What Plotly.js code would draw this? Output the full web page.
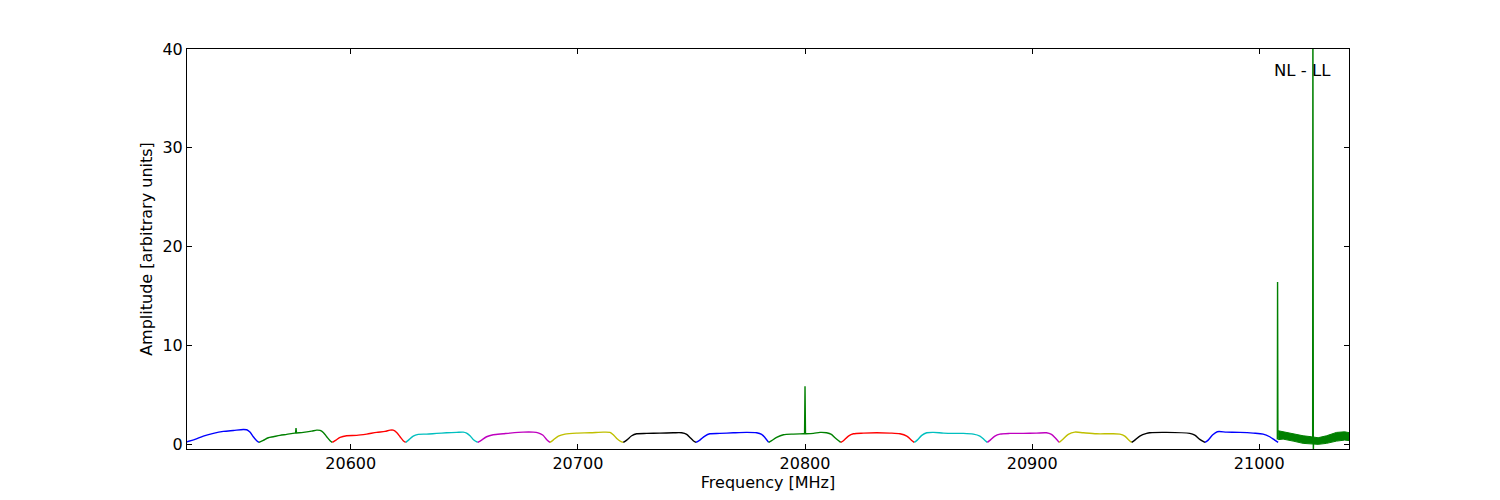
<!DOCTYPE html>
<html>
<head>
<meta charset="utf-8">
<script src="https://cdn.plot.ly/plotly-3.0.1.min.js"></script>
<style>html,body{margin:0;padding:0;background:#fff;}#chart{width:1500px;height:500px;}</style>
</head>
<body>
<div id="chart"></div>
<script>
// ---- Data (frequency in MHz, amplitude in arbitrary units) ----
const s01_f = [20527.8, 20531.4, 20535.1, 20539.5, 20543.9, 20548.3, 20552.7, 20554.2, 20555.6, 20557.1, 20558.6, 20559.6];
const s01_a = [0.22, 0.47, 0.81, 1.08, 1.28, 1.38, 1.48, 1.45, 1.21, 0.74, 0.34, 0.17];
const s02_f = [20559.6, 20561.5, 20563.7, 20565.9, 20568.8, 20571.8, 20575.4, 20579.1, 20582.8, 20585.0, 20586.5, 20587.9, 20589.4, 20590.9, 20591.9];
const s02_a = [0.17, 0.37, 0.64, 0.74, 0.88, 0.98, 1.11, 1.18, 1.31, 1.41, 1.38, 1.18, 0.74, 0.34, 0.17];
const s03_f = [20591.9, 20593.1, 20595.3, 20598.2, 20602.6, 20607.0, 20611.4, 20615.1, 20617.3, 20618.7, 20620.2, 20621.7, 20623.1, 20624.2];
const s03_a = [0.17, 0.34, 0.67, 0.84, 0.88, 1.01, 1.18, 1.28, 1.41, 1.41, 1.18, 0.74, 0.34, 0.17];
const s04_f = [20624.2, 20625.3, 20627.5, 20629.7, 20633.4, 20637.8, 20642.2, 20646.6, 20649.5, 20651.0, 20652.5, 20653.9, 20655.9];
const s04_a = [0.17, 0.37, 0.81, 0.98, 1.01, 1.08, 1.14, 1.18, 1.21, 1.11, 0.84, 0.47, 0.17];
const s05_f = [20655.9, 20657.6, 20659.8, 20662.7, 20667.1, 20670.1, 20675.9, 20680.3, 20682.5, 20684.5, 20686.2, 20687.7];
const s05_a = [0.17, 0.40, 0.74, 0.94, 1.04, 1.11, 1.21, 1.21, 1.14, 0.91, 0.47, 0.17];
const s06_f = [20687.7, 20689.1, 20691.4, 20694.3, 20699.4, 20705.3, 20711.2, 20714.1, 20715.6, 20717.1, 20718.8, 20720.0];
const s06_a = [0.17, 0.40, 0.81, 1.01, 1.11, 1.14, 1.21, 1.18, 0.94, 0.57, 0.27, 0.17];
const s07_f = [20720.0, 20721.5, 20723.7, 20725.9, 20730.3, 20736.1, 20742.0, 20745.7, 20747.9, 20749.3, 20750.8, 20752.0];
const s07_a = [0.17, 0.40, 0.84, 1.04, 1.08, 1.11, 1.14, 1.14, 0.98, 0.67, 0.34, 0.17];
const s08_f = [20752.0, 20753.7, 20755.9, 20758.1, 20762.5, 20768.4, 20774.3, 20778.7, 20780.9, 20782.4, 20784.0];
const s08_a = [0.17, 0.40, 0.81, 1.04, 1.08, 1.14, 1.18, 1.14, 0.98, 0.64, 0.17];
const s09_f = [20784.0, 20785.3, 20787.5, 20790.5, 20794.9, 20799.3, 20803.7, 20806.6, 20809.5, 20811.6, 20813.2, 20815.7];
const s09_a = [0.17, 0.34, 0.67, 0.94, 1.01, 1.04, 1.08, 1.18, 1.14, 0.98, 0.64, 0.17];
const s10_f = [20815.7, 20816.9, 20819.1, 20821.3, 20825.7, 20831.6, 20837.4, 20841.8, 20844.8, 20846.5, 20848.1];
const s10_a = [0.17, 0.34, 0.81, 1.04, 1.11, 1.14, 1.11, 1.04, 0.81, 0.47, 0.17];
const s11_f = [20848.1, 20849.4, 20851.4, 20853.6, 20856.5, 20860.9, 20865.3, 20869.7, 20874.1, 20877.0, 20878.8, 20880.3];
const s11_a = [0.17, 0.40, 0.88, 1.14, 1.18, 1.11, 1.08, 1.08, 1.01, 0.81, 0.47, 0.17];
const s12_f = [20880.3, 20881.4, 20883.6, 20885.8, 20890.2, 20896.1, 20901.9, 20906.3, 20908.5, 20910.0, 20911.9];
const s12_a = [0.17, 0.37, 0.81, 1.01, 1.08, 1.08, 1.11, 1.14, 0.98, 0.67, 0.17];
const s13_f = [20911.9, 20913.4, 20915.9, 20918.8, 20922.5, 20928.4, 20934.2, 20938.6, 20940.8, 20942.3, 20943.8];
const s13_a = [0.17, 0.47, 0.98, 1.21, 1.14, 1.04, 1.04, 1.01, 0.81, 0.47, 0.17];
const s14_f = [20943.8, 20945.2, 20947.4, 20950.4, 20951.8, 20959.1, 20969.4, 20971.6, 20973.8, 20976.1];
const s14_a = [0.17, 0.40, 0.81, 1.08, 1.14, 1.18, 1.08, 0.91, 0.47, 0.17];
const s15_f = [20976.1, 20977.5, 20979.4, 20981.5, 20985.6, 20991.4, 20997.3, 21001.7, 21004.6, 21006.8, 21008.3];
const s15_a = [0.17, 0.40, 0.91, 1.25, 1.21, 1.18, 1.11, 1.01, 0.74, 0.40, 0.17];
// last (noisy) green segment: upper and lower envelope of the noise band
const s16_f = [21008.3, 21010.5, 21014.9, 21019.3, 21023.0, 21025.9, 21029.6, 21034.0, 21037.6, 21039.6];
const s16_hi = [1.35, 1.24, 1.08, 0.84, 0.74, 0.64, 0.84, 1.18, 1.24, 1.15];
const s16_lo = [0.45, 0.50, 0.30, 0.07, 0.00, -0.03, 0.07, 0.30, 0.40, 0.35];
// narrow spikes (all in green segments)
const spikeA_f = [20575.7, 20575.9, 20576.1];
const spikeA_a = [1.12, 1.62, 1.13];
const spikeB_f = [20799.8, 20800.0, 20800.2];
const spikeB_a = [1.05, 5.86, 1.05];
const spikeC_f = [21007.95, 21008.05, 21008.2];
const spikeC_a = [0.45, 16.4, 0.6];
const spikeD_f = [21023.5, 21023.6, 21023.8, 21023.9];
const spikeD_a = [0.3, 48, -0.8, 0.3];

const segF = [s01_f, s02_f, s03_f, s04_f, s05_f, s06_f, s07_f, s08_f, s09_f, s10_f, s11_f, s12_f, s13_f, s14_f, s15_f];
const segA = [s01_a, s02_a, s03_a, s04_a, s05_a, s06_a, s07_a, s08_a, s09_a, s10_a, s11_a, s12_a, s13_a, s14_a, s15_a];

const xTicks = [20600, 20700, 20800, 20900, 21000];
const yTicks = [0, 10, 20, 30, 40];
const label = 'NL - LL';

// ---- styles ----
const palette = ['#0000ff', '#008000', '#ff0000', '#00bfbf', '#bf00bf', '#bfbf00', '#000000'];
const GREEN = '#008000';
const LW = 1.4;

const traces = [];
segF.forEach((f, i) => {
  traces.push({x: f, y: segA[i], mode: 'lines', type: 'scatter',
    line: {color: palette[i % 7], width: LW, shape: 'spline', smoothing: 0.8}, hoverinfo: 'skip'});
});
// noisy band
traces.push({x: s16_f.concat(s16_f.slice().reverse()), y: s16_hi.concat(s16_lo.slice().reverse()),
  mode: 'lines', type: 'scatter', fill: 'toself', fillcolor: GREEN,
  line: {color: GREEN, width: 1}, hoverinfo: 'skip'});
[[spikeA_f, spikeA_a], [spikeB_f, spikeB_a], [spikeC_f, spikeC_a], [spikeD_f, spikeD_a]].forEach(([f, a]) => {
  traces.push({x: f, y: a, mode: 'lines', type: 'scatter', line: {color: GREEN, width: LW}, hoverinfo: 'skip'});
});

const FONT = 'DejaVu Sans, sans-serif';
const axisCommon = {
  showline: true, linecolor: '#000', linewidth: 1, mirror: 'allticks',
  ticks: 'inside', ticklen: 5, tickwidth: 1, tickcolor: '#000',
  showgrid: false, zeroline: false,
  tickfont: {family: FONT, size: 16, color: '#000'}
};

const layout = {
  width: 1500, height: 500,
  margin: {l: 187, r: 151, t: 49, b: 51, pad: 0},
  paper_bgcolor: '#fff', plot_bgcolor: '#fff',
  showlegend: false,
  xaxis: Object.assign({}, axisCommon, {
    range: [20527.9, 21039.5], tickvals: xTicks, ticktext: xTicks.map(String),
    title: {text: 'Frequency [MHz]', font: {family: FONT, size: 16, color: '#000'}, standoff: 3}
  }),
  yaxis: Object.assign({}, axisCommon, {
    range: [-0.5, 40], tickvals: yTicks, ticktext: yTicks.map(String),
    title: {text: 'Amplitude [arbitrary units]', font: {family: FONT, size: 16, color: '#000'}, standoff: 5}
  }),
  annotations: [{
    text: label, xref: 'paper', yref: 'paper', x: 0.9604, y: 0.9475,
    xanchor: 'center', yanchor: 'middle', showarrow: false,
    font: {family: FONT, size: 16.5, color: '#000'}
  }]
};

Plotly.newPlot('chart', traces, layout, {staticPlot: true, displayModeBar: false});
</script>
</body>
</html>
